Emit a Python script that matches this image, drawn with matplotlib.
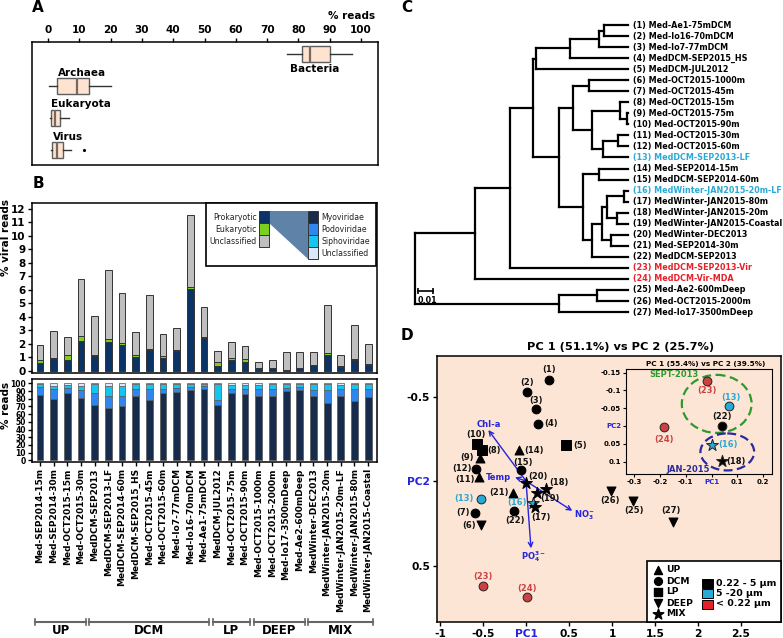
import numpy as np
import matplotlib
matplotlib.use("Agg")
import matplotlib.pyplot as plt
from matplotlib.patches import Rectangle, Polygon, Ellipse

plt.rcParams['font.family'] = ['DejaVu Sans']
plt.rcParams['axes.unicode_minus'] = False
plt.rcParams['mathtext.default'] = 'bf'

W, H = 783, 638

# ---------------- data ----------------
# A: % reads per domain (box statistics)
domains = ["Bacteria", "Archaea", "Eukaryota", "Virus"]
dom_lo = [76.3, 0.3, 0.5, 0.9]
dom_q1 = [81.1, 2.8, 0.9, 1.4]
dom_med = [83.7, 9.3, 2.4, 3.0]
dom_q3 = [90.1, 13.1, 3.8, 4.9]
dom_hi = [97.0, 20.0, 6.7, 7.3]
dom_out = [[], [], [], [11.4]]

# B: viral reads per metagenome
samples = ["Med-SEP2014-15m", "Med-SEP2014-30m", "Med-OCT2015-15m", "Med-OCT2015-30m",
           "MedDCM-SEP2013", "MedDCM-SEP2013-LF", "MedDCM-SEP2014-60m", "MedDCM-SEP2015_HS",
           "Med-OCT2015-45m", "Med-OCT2015-60m", "Med-Io7-77mDCM", "Med-Io16-70mDCM",
           "Med-Ae1-75mDCM", "MedDCM-JUL2012", "Med-OCT2015-75m", "Med-OCT2015-90m",
           "Med-OCT2015-1000m", "Med-OCT2015-2000m", "Med-Io17-3500mDeep", "Med-Ae2-600mDeep",
           "MedWinter-DEC2013", "MedWinter-JAN2015-20m", "MedWinter-JAN2015-20m-LF",
           "MedWinter-JAN2015-80m", "MedWinter-JAN2015-Coastal"]
viral_total = np.array([1.95, 2.98, 2.53, 6.8, 4.1, 7.45, 5.78, 2.85, 5.65, 2.75, 3.18, 11.52, 4.72,
                        1.5, 2.15, 1.88, 0.7, 0.82, 1.42, 1.42, 1.43, 4.9, 1.22, 3.43, 2.0])
prok = np.array([0.62, 0.86, 0.83, 2.22, 1.1, 2.17, 1.95, 1.0, 1.52, 0.97, 1.5, 6.1, 2.47,
                 0.4, 0.79, 0.69, 0.15, 0.2, 0.07, 0.22, 0.42, 1.21, 0.32, 0.8, 0.42])
euk = np.array([0.19, 0.1, 0.33, 0.38, 0.05, 0.18, 0.1, 0.22, 0.08, 0.15, 0.03, 0.15, 0.05,
                0.24, 0.18, 0.18, 0.1, 0.02, 0.02, 0.02, 0.05, 0.13, 0.05, 0.1, 0.1])
unclass = viral_total - prok - euk

myo = np.array([85, 80, 88, 81, 72, 68, 71, 84, 78, 87.5, 89, 91.5, 92, 72, 87, 86, 84, 84,
                90, 91, 83, 75, 83, 77, 82.5])
podo = np.array([10, 12, 6, 10, 16, 16, 13, 8, 14, 5.5, 5, 4, 4.5, 6, 6, 7, 8, 9, 4, 4, 8,
                 16, 9, 15, 9.5])
sipho = np.array([4, 5, 4, 5, 11, 13, 13, 7, 7, 5.5, 4.5, 3.5, 2.5, 21, 5, 5, 6, 5.5, 4.5,
                  3.5, 7.5, 7.5, 6, 7, 7])
fam_uncl = 100 - myo - podo - sipho

groups = ["UP", "DCM", "LP", "DEEP", "MIX"]
group_size = [4, 9, 3, 4, 5]

# C: tree (node depth, children...), leaves are numbers
tip_depth = 0.1451
tree = (0.0,
        (0.0408,
         (0.0646,
          (0.0801,
           (0.0823, (0.1054, (0.1254, (0.1288, 1, 2), 3), 4), 5),
           (0.098,
            (0.1077, (0.1186, 6, 7),
             (0.1202, (0.1395, 8, (0.144, 9, 10)), (0.1277, (0.1379, 11, 12), 13))),
            (0.1141, (0.1254, 14, 15),
             (0.1206, (0.127, (0.1304, (0.1424, 16, 17), (0.1372, 18, 19)), (0.1331, 20, 21)),
              22)))),
          23),
         24),
        (0.098, (0.1236, 25, 26), 27))
leaf_names = ["Med-Ae1-75mDCM", "Med-Io16-70mDCM", "Med-Io7-77mDCM", "MedDCM-SEP2015_HS",
              "MedDCM-JUL2012", "Med-OCT2015-1000m", "Med-OCT2015-45m", "Med-OCT2015-15m",
              "Med-OCT2015-75m", "Med-OCT2015-90m", "Med-OCT2015-30m", "Med-OCT2015-60m",
              "MedDCM-SEP2013-LF", "Med-SEP2014-15m", "MedDCM-SEP2014-60m",
              "MedWinter-JAN2015-20m-LF", "MedWinter-JAN2015-80m", "MedWinter-JAN2015-20m",
              "MedWinter-JAN2015-Coastal", "MedWinter-DEC2013", "Med-SEP2014-30m",
              "MedDCM-SEP2013", "MedDCM-SEP2013-Vir", "MedDCM-Vir-MDA", "Med-Ae2-600mDeep",
              "Med-OCT2015-2000m", "Med-Io17-3500mDeep"]
leaf_frac = {13: "5-20", 16: "5-20", 23: "<0.22", 24: "<0.22"}

# D: PCA
pc1 = [0.27, 0.008, 0.113, 0.136, 0.465, -0.527, -0.593, -0.508, -0.535, -0.573, -0.543, -0.585,
       -0.527, -0.081, -0.054, 0.078, 0.105, 0.233, 0.124, 0.0, -0.147, -0.14, -0.496, 0.016,
       1.24, 0.985, 1.713]
pc2 = [-0.598, -0.528, -0.424, -0.339, -0.213, 0.258, 0.191, -0.183, -0.134, -0.219, -0.022,
       -0.071, 0.105, -0.183, -0.065, 0.132, 0.156, 0.049, 0.073, 0.014, 0.069, 0.178, 0.621,
       0.688, 0.117, 0.057, 0.241]
pc_group = ["DCM", "DCM", "DCM", "DCM", "LP", "DEEP", "DCM", "LP", "UP", "LP", "UP", "DCM", "DCM",
            "UP", "DCM", "MIX", "MIX", "MIX", "MIX", "MIX", "UP", "DCM", "DCM", "DCM", "DEEP",
            "DEEP", "DEEP"]
# label offsets in pixels (dx, dy downwards)
pc_lab_off = [(0, -10), (0, -9), (0, -9), (13, 0), (14, 0), (-12, 1), (-12, -1), (12, 0),
              (-13, -1), (-1, -10), (-14, 2), (-14, -1), (-17, 0), (15, 0), (2, -8), (-16, -1),
              (6, 10), (13, -7), (13, 5), (12, -7), (-14, 0), (1, 9), (0, -10), (0, -9),
              (1, 10), (-1, 10), (-2, -11)]
env_names = ["Chl-a", "Temp", r"NO$_3^{-}$", r"PO$_4^{3-}$"]
env_pc1 = [-0.438, -0.128, 0.538, 0.058]
env_pc2 = [-0.302, -0.022, 0.176, 0.398]
env_lab_off = [(0, -6), (-17, 0), (12, 4), (2, 8)]

ins_id = [23, 13, 22, 24, 16, 18]
ins_pc1 = [-0.019, 0.068, 0.041, -0.183, 0.0, 0.041]
ins_pc2 = [-0.126, -0.056, 0.0, 0.004, 0.053, 0.098]
ins_lab_off = [(0, 9), (2, -9), (0, -9), (0, 12), (16, 0), (14, 1)]

# ---------------- styles ----------------
c_prok, c_euk, c_unc = "#0b3366", "#7dcf1e", "#bfbfbf"
c_myo, c_podo, c_sipho, c_func = "#172b4d", "#2f86ee", "#12c6f0", "#dbe7fa"
cyan, red, dred = "#29a9d6", "#e8202a", "#cc4141"
blue = "#2424dc"
peach = "#fde5d5"
mk = {"UP": "^", "DCM": "o", "LP": "s", "DEEP": "v", "MIX": "*"}
msz = {"UP": 42, "DCM": 40, "LP": 44, "DEEP": 42, "MIX": 80}
frac_col = {"0.22-5": "black", "5-20": cyan, "<0.22": dred}


def frac_of(i):
    return leaf_frac.get(i, "0.22-5")


fig = plt.figure(figsize=(W / 100, H / 100), dpi=100)


def px_axes(x0, y0, x1, y1):
    return fig.add_axes([x0 / W, 1 - y1 / H, (x1 - x0) / W, (y1 - y0) / H])


def bold_ticks(ax):
    for l in ax.get_xticklabels() + ax.get_yticklabels():
        l.set_fontweight("bold")


# ---------------- A ----------------
axA = px_axes(32, 42, 378, 165)
stats = [dict(whislo=a, q1=b, med=c, q3=d, whishi=e, fliers=f)
         for a, b, c, d, e, f in zip(dom_lo, dom_q1, dom_med, dom_q3, dom_hi, dom_out)]
axA.bxp(stats, positions=np.arange(4), widths=0.5, orientation="horizontal", patch_artist=True,
        showcaps=False,
        boxprops=dict(facecolor="#fde3d0", edgecolor="#5e5e5e", lw=1),
        medianprops=dict(color="#7a685c", lw=1.6),
        whiskerprops=dict(color="#333333", lw=1),
        flierprops=dict(marker=".", markersize=2.5, markerfacecolor="k", markeredgecolor="k"))
axA.set_xlim(-5.1, 105.4)
axA.set_ylim(3.47, -0.375)
axA.xaxis.tick_top()
axA.set_xticks(range(0, 101, 10))
axA.set_yticks([])
axA.tick_params(axis="x", length=3, width=1, labelsize=7.5, pad=2)
bold_ticks(axA)
for sp in axA.spines.values():
    sp.set_linewidth(1.1)
dom_lab_x = [85.3, 10.9, 10.5, 6.4]
dom_lab_dy = [0.47, -0.41, -0.44, -0.41]
for i, name in enumerate(domains):
    axA.text(dom_lab_x[i], i + dom_lab_dy[i], name, ha="center", va="center",
             fontsize=7.5, fontweight="bold")

# ---------------- B top ----------------
x = np.arange(len(samples))
bw = 0.5
axB = px_axes(32, 203, 377, 373)
axB.bar(x, prok, bw, color=c_prok, edgecolor="#333333", lw=0.7)
axB.bar(x, euk, bw, bottom=prok, color=c_euk, edgecolor="#333333", lw=0.7)
axB.bar(x, unclass, bw, bottom=prok + euk, color=c_unc, edgecolor="#333333", lw=0.7)
axB.set_xlim(-0.585, 24.65)
axB.set_ylim(-0.15, 12.44)
axB.set_yticks(range(13))
axB.set_xticks([])
axB.tick_params(axis="y", length=3, width=1, labelsize=7.5, pad=1.5)
bold_ticks(axB)
for sp in axB.spines.values():
    sp.set_linewidth(1.1)

# ---------------- B bottom ----------------
axR = px_axes(32, 379, 377, 462)
bot = np.zeros(len(samples))
for vals, col in [(myo, c_myo), (podo, c_podo), (sipho, c_sipho), (fam_uncl, c_func)]:
    axR.bar(x, vals, bw, bottom=bot, color=col, edgecolor="#555555", lw=0.5)
    bot = bot + vals
axR.set_xlim(-0.585, 24.65)
axR.set_ylim(-2.2, 105.6)
axR.set_yticks(range(0, 101, 10))
axR.set_xticks(x)
axR.set_xticklabels(samples, rotation=90, fontsize=6.5, fontweight="bold")
axR.tick_params(axis="y", length=3, width=1, labelsize=5.5, pad=1.5)
axR.tick_params(axis="x", length=3, width=1, pad=1.5)
for l in axR.get_yticklabels():
    l.set_fontweight("bold")
for sp in axR.spines.values():
    sp.set_linewidth(1.1)

# group brackets
axG = px_axes(32, 612, 377, 638)
axG.set_xlim(-0.585, 24.65)
axG.set_ylim(0, 1)
axG.axis("off")
start = -0.5
for g, n in zip(groups, group_size):
    a, b = start + 0.12, start + n - 0.12
    axG.plot([a, b], [0.62, 0.62], color="#666666", lw=1.5)
    axG.plot([a, a], [0.5, 0.74], color="#666666", lw=1.2)
    axG.plot([b, b], [0.5, 0.74], color="#666666", lw=1.2)
    axG.text((a + b) / 2, 0.27, g, ha="center", va="center", fontsize=8.5, fontweight="bold")
    start += n

# ---------------- C ----------------
axC = px_axes(400, 15, 783, 320)
axC.set_xlim(-0.0102, 0.2503)
axC.set_ylim(26.72, -0.906)
axC.axis("off")
lkw = dict(color="black", lw=1.6, solid_capstyle="projecting")


def draw(node):
    if isinstance(node, int):
        return node - 1, tip_depth
    depth = node[0]
    ys = []
    for kid in node[1:]:
        y, d = draw(kid)
        axC.plot([depth, d], [y, y], **lkw)
        ys.append(y)
    axC.plot([depth, depth], [min(ys), max(ys)], **lkw)
    return (min(ys) + max(ys)) / 2, depth


draw(tree)
for i, name in enumerate(leaf_names):
    f = frac_of(i + 1)
    col = {"0.22-5": "black", "5-20": cyan, "<0.22": red}[f]
    axC.text(tip_depth + 0.0032, i, f"({i + 1}) {name}", ha="left", va="center",
             fontsize=5.8, fontweight="bold", color=col)
axC.plot([0.002, 0.012], [24.07, 24.07], color="black", lw=1.2, marker="|", ms=4, mew=1.2)
axC.text(0.0015, 24.95, "0.01", ha="left", va="center", fontsize=5.8, fontweight="bold")

# ---------------- D ----------------
axD = px_axes(437, 356, 781, 622)
axD.set_facecolor(peach)
axD.set_xlim(-1.035, 2.965)
axD.set_ylim(0.834, -0.74)
for i in range(len(pc1)):
    g = pc_group[i]
    col = frac_col[frac_of(i + 1)]
    axD.scatter(pc1[i], pc2[i], marker=mk[g], s=msz[g], color=col,
                edgecolor="#222222" if col != "black" else "black", lw=0.7, zorder=3)
    dx, dy = pc_lab_off[i]
    axD.annotate(f"({i + 1})", (pc1[i], pc2[i]), xytext=(dx, -dy), textcoords="offset pixels",
                 ha="center", va="center", fontsize=6, fontweight="bold",
                 color=col if col != "black" else "#111111", zorder=4)
for nm, a, b, off in zip(env_names, env_pc1, env_pc2, env_lab_off):
    axD.annotate("", xy=(a, b), xytext=(0, 0),
                 arrowprops=dict(arrowstyle="->", color=blue, lw=1, shrinkA=0, shrinkB=0,
                                 mutation_scale=8), zorder=2)
    axD.annotate(nm, (a, b), xytext=(off[0], -off[1]), textcoords="offset pixels",
                 ha="center", va="center", fontsize=6, fontweight="bold", color=blue)
axD.set_xticks([-1, -0.5, 0, 0.5, 1, 1.5, 2, 2.5])
axD.set_xticklabels(["-1", "-0.5", "PC1", "0.5", "1", "1.5", "2", "2.5"])
axD.set_yticks([-0.5, 0, 0.5])
axD.set_yticklabels(["-0.5", "PC2", "0.5"])
axD.tick_params(length=3, width=1, labelsize=7.7, pad=2)
bold_ticks(axD)
axD.get_xticklabels()[2].set_color(blue)
axD.get_yticklabels()[1].set_color(blue)
for sp in axD.spines.values():
    sp.set_linewidth(1.1)

# inset
axI = px_axes(626, 369, 772, 474)
axI.set_facecolor(peach)
axI.set_xlim(-0.331, 0.234)
axI.set_ylim(0.135, -0.16)
axI.add_patch(Ellipse((0.02, -0.062), 0.27, 0.163, fill=False, ls=(0, (4, 2)),
                      color="#2e9a2e", lw=1.6))
axI.add_patch(Ellipse((0.061, 0.073), 0.208, 0.104, fill=False, ls=(0, (4, 2)),
                      color="#2a2a9a", lw=1.6))
for pid, a, b, off in zip(ins_id, ins_pc1, ins_pc2, ins_lab_off):
    g = pc_group[pid - 1]
    col = frac_col[frac_of(pid)]
    axI.scatter(a, b, marker=mk[g], s=msz[g], color=col, edgecolor="#222222", lw=0.7, zorder=3)
    axI.annotate(f"({pid})", (a, b), xytext=(off[0], -off[1]), textcoords="offset pixels",
                 ha="center", va="center", fontsize=6, fontweight="bold",
                 color=col if col != "black" else "#111111")
axI.text(-0.24, -0.145, "SEPT-2013", ha="left", va="center", fontsize=6, fontweight="bold",
         color="#2e9a2e")
axI.text(-0.09, 0.122, "JAN-2015", ha="center", va="center", fontsize=6, fontweight="bold",
         color="#2a2a9a")
axI.set_xticks([-0.3, -0.2, -0.1, 0, 0.1, 0.2])
axI.set_xticklabels(["-0.3", "-0.2", "-0.1", "PC1", "0.1", "0.2"])
axI.set_yticks([-0.15, -0.1, -0.05, 0, 0.05, 0.1])
axI.set_yticklabels(["-0.15", "-0.1", "-0.05", "PC2", "0.05", "0.1"])
axI.tick_params(length=2, width=0.8, labelsize=5, pad=1.5)
bold_ticks(axI)
axI.get_xticklabels()[3].set_color(blue)
axI.get_yticklabels()[3].set_color(blue)

# ---------------- overlay (legends, labels) ----------------
ov = fig.add_axes([0, 0, 1, 1])
ov.set_xlim(0, W)
ov.set_ylim(H, 0)
ov.axis("off")
ov.set_zorder(10)
ov.patch.set_alpha(0)

for lab, px, py in [("A", 38, 8), ("B", 38, 183), ("C", 407, 7), ("D", 407, 335)]:
    ov.text(px, py, lab, ha="center", va="center", fontsize=11, fontweight="bold")
ov.text(375, 16, "% reads", ha="right", va="center", fontsize=7.5, fontweight="bold")
ov.text(6, 238, "% viral reads", rotation=90, ha="center", va="center", fontsize=7.5,
        fontweight="bold")
ov.text(6, 405, "% reads", rotation=90, ha="center", va="center", fontsize=7.5,
        fontweight="bold")
ov.text(621, 347, "PC 1 (51.1%) vs PC 2 (25.7%)", ha="center", va="center", fontsize=8.2,
        fontweight="bold")
ov.text(706, 364, "PC 1 (55.4%) vs PC 2 (39.5%)", ha="center", va="center", fontsize=5.2,
        fontweight="bold")

# B legend
ov.add_patch(Rectangle((206, 203), 170, 63, facecolor="white", edgecolor="black", lw=1.2))
ov.add_patch(Polygon([(269, 211), (308, 211), (308, 259), (269, 223)], closed=True,
                     facecolor="#5f82a8", edgecolor="none"))
for j, (lab, col) in enumerate([("Prokaryotic", c_prok), ("Eukaryotic", c_euk),
                                ("Unclassified", c_unc)]):
    yy = 217 + 12 * j
    ov.add_patch(Rectangle((259, yy - 6), 10, 12, facecolor=col, edgecolor="#333333", lw=0.7))
    ov.text(257, yy, lab, ha="right", va="center", fontsize=5.6, color="#222222")
for j, (lab, col) in enumerate([("Myoviridae", c_myo), ("Podoviridae", c_podo),
                                ("Siphoviridae", c_sipho), ("Unclassified", c_func)]):
    yy = 217 + 12 * j
    ov.add_patch(Rectangle((308, yy - 6), 10, 12, facecolor=col, edgecolor="#333333", lw=0.7))
    ov.text(321, yy, lab, ha="left", va="center", fontsize=5.6, color="#222222")

# D legend
ov.add_patch(Rectangle((647, 561), 134, 61, facecolor="white", edgecolor="black", lw=1.2))
for j, g in enumerate(groups):
    yy = 570 + 11 * j
    ov.scatter(658, yy, marker=mk[g], s=msz[g] * 0.8, color="black")
    ov.text(666, yy, g, ha="left", va="center", fontsize=6.6, fontweight="bold")
for j, (lab, f) in enumerate([("0.22 - 5 µm", "0.22-5"), ("5 -20 µm", "5-20"),
                              ("< 0.22 µm", "<0.22")]):
    yy = 583 + 10.5 * j
    c = {"0.22-5": "black", "5-20": cyan, "<0.22": red}[f]
    ov.add_patch(Rectangle((702, yy - 4.5), 11, 9, facecolor=c, edgecolor="black", lw=0.7))
    ov.text(716, yy, lab, ha="left", va="center", fontsize=6.8, fontweight="bold")

fig.savefig("out.png", dpi=100)
